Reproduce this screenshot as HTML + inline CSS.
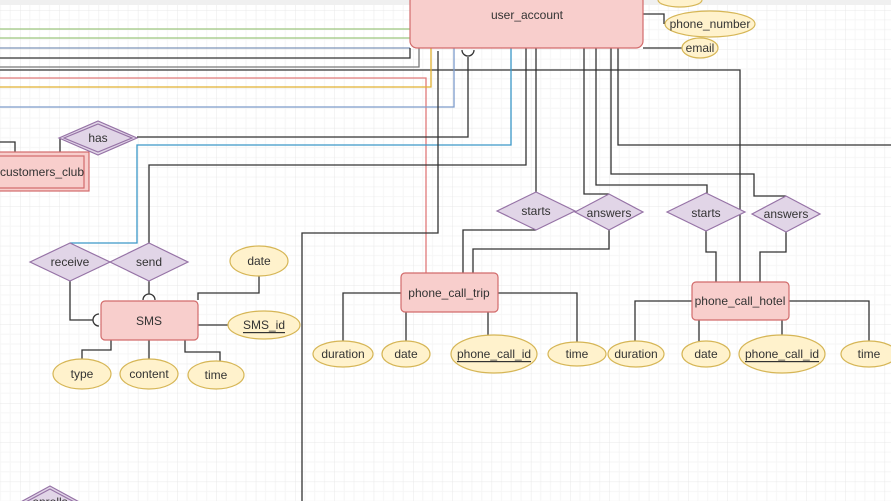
<!DOCTYPE html>
<html><head><meta charset="utf-8"><style>
html,body{margin:0;padding:0;background:#fff;}
svg{display:block;font-family:"Liberation Sans",sans-serif;}
text{font-size:12px;fill:#333;text-anchor:middle;dominant-baseline:central;}
</style></head><body>
<svg width="891" height="501" viewBox="0 0 891 501" xmlns="http://www.w3.org/2000/svg">
<defs>
<pattern id="g" width="39.3" height="39.3" patternUnits="userSpaceOnUse" x="20" y="10">
<path d="M9.8 0V39.3M19.6 0V39.3M29.5 0V39.3M0 9.8H39.3M0 19.6H39.3M0 29.5H39.3" stroke="#f6f6f6" stroke-width="1" fill="none"/>
<path d="M0 0V39.3M0 0H39.3" stroke="#e8e8e8" stroke-width="1" fill="none"/>
</pattern>
</defs>
<rect width="891" height="501" fill="url(#g)"/>
<rect width="891" height="5" fill="#f0f0f0"/>
<g fill="none" stroke-width="1.3">
<path d="M0 29H410" stroke="#9cc57e"/>
<path d="M0 38H410" stroke="#9cc57e"/>
<path d="M0 48H410" stroke="#7d93b8"/>
<path d="M0 58H410V48" stroke="#333"/>
<path d="M0 67H419V48" stroke="#777"/>
<path d="M0 70H740V282" stroke="#333"/>
<path d="M0 78H426V273" stroke="#e07a7a"/>
<path d="M0 87H431V48" stroke="#e0b030"/>
<path d="M0 107H454V48" stroke="#7d9ccb"/>
<path d="M137 137H468V57" stroke="#333"/>
<path d="M462 50a6 6 0 0 0 12 0" stroke="#333"/>
<path d="M70 243H137V145H511V48" stroke="#3b98c8"/>
<path d="M149 243V165H526V48" stroke="#333"/>
<path d="M438 51V233H302V501" stroke="#333"/>
<path d="M536 48V192" stroke="#333"/>
<path d="M584 48V194H609" stroke="#333"/>
<path d="M596 48V185H707V193" stroke="#333"/>
<path d="M611 48V174H754V196H786" stroke="#333"/>
<path d="M618 48V145H891" stroke="#333"/>
<path d="M643 14H664V24" stroke="#333"/>
<path d="M643 48H682" stroke="#333"/>
<path d="M15 152V142H0M60 152V138" stroke="#333"/>
<path d="M70 281V320H93M99 314a6 6 0 0 0 0 12" stroke="#333"/>
<path d="M149 281V294M143 300a6 6 0 0 1 12 0" stroke="#333"/>
<path d="M259 276V293H198V300" stroke="#333"/>
<path d="M198 325H228M111 340V350H82V359M149 340V359M185 340V352H220V363" stroke="#333"/>
<path d="M463 273V230H536M609 230V249H473V273" stroke="#333"/>
<path d="M401 293H343V341M406 312V341M488 312V335M498 293H577V342" stroke="#333"/>
<path d="M706 231V252H716V282M786 232V252H760V282" stroke="#333"/>
<path d="M692 301H635V341M699 320V341M782 320V335M789 301H869V342" stroke="#333"/>
</g>
<g fill="#f8cecc" stroke="#d26b6b" stroke-width="1.2">
<rect x="410" y="-6" width="233" height="54" rx="7"/>
<rect x="-5" y="152" width="94" height="39"/>
<rect x="-5" y="156" width="89" height="32" fill="none"/>
<rect x="101" y="301" width="97" height="39" rx="4"/>
<rect x="401" y="273" width="97" height="39" rx="4"/>
<rect x="692" y="282" width="97" height="38" rx="4"/>
</g>
<g fill="#e1d5e7" stroke="#9673a6" stroke-width="1.2">
<path d="M59 138L98 121L137 138L98 155Z"/>
<path d="M64 138L98 124L132 138L98 152Z" fill="none"/>
<path d="M497 211L536 192L575 211L536 230Z"/>
<path d="M575 212L609 194L643 212L609 230Z"/>
<path d="M667 212L706 193L745 212L706 231Z"/>
<path d="M752 214L786 196L820 214L786 232Z"/>
<path d="M30 262L70 243L110 262L70 281Z"/>
<path d="M110 262L149 243L188 262L149 281Z"/>
<path d="M17 504L50 486L83 504L50 522Z"/>
<path d="M22 504L50 489L78 504" fill="none"/>
</g>
<g fill="#fff2cc" stroke="#d6b656" stroke-width="1.2">
<ellipse cx="680" cy="0" rx="22" ry="7"/>
<ellipse cx="710" cy="24" rx="45" ry="13"/>
<ellipse cx="700" cy="48" rx="18" ry="10"/>
<ellipse cx="259" cy="261" rx="29" ry="15"/>
<ellipse cx="264" cy="325" rx="36" ry="14"/>
<ellipse cx="82" cy="374" rx="29" ry="15"/>
<ellipse cx="149" cy="374" rx="29" ry="15"/>
<ellipse cx="216" cy="375" rx="28" ry="14"/>
<ellipse cx="343" cy="354" rx="30" ry="13"/>
<ellipse cx="406" cy="354" rx="24" ry="13"/>
<ellipse cx="494" cy="354" rx="43" ry="19"/>
<ellipse cx="577" cy="354" rx="29" ry="12"/>
<ellipse cx="636" cy="354" rx="28" ry="13"/>
<ellipse cx="706" cy="354" rx="24" ry="13"/>
<ellipse cx="782" cy="354" rx="43" ry="19"/>
<ellipse cx="869" cy="354" rx="28" ry="13"/>
</g>
<text x="527" y="15">user_account</text>
<text x="710" y="24">phone_number</text>
<text x="700" y="48">email</text>
<text x="42" y="172">customers_club</text>
<text x="98" y="138">has</text>
<text x="536" y="211">starts</text>
<text x="609" y="213">answers</text>
<text x="706" y="213">starts</text>
<text x="786" y="214">answers</text>
<text x="70" y="262">receive</text>
<text x="149" y="262">send</text>
<text x="50" y="502">enrolls</text>
<text x="149" y="321">SMS</text>
<text x="449" y="293">phone_call_trip</text>
<text x="740" y="301">phone_call_hotel</text>
<text x="259" y="261">date</text>
<text x="264" y="325" text-decoration="underline">SMS_id</text>
<text x="82" y="374">type</text>
<text x="149" y="374">content</text>
<text x="216" y="375">time</text>
<text x="343" y="354">duration</text>
<text x="406" y="354">date</text>
<text x="494" y="354" text-decoration="underline">phone_call_id</text>
<text x="577" y="354">time</text>
<text x="636" y="354">duration</text>
<text x="706" y="354">date</text>
<text x="782" y="354" text-decoration="underline">phone_call_id</text>
<text x="869" y="354">time</text>
</svg>
</body></html>
